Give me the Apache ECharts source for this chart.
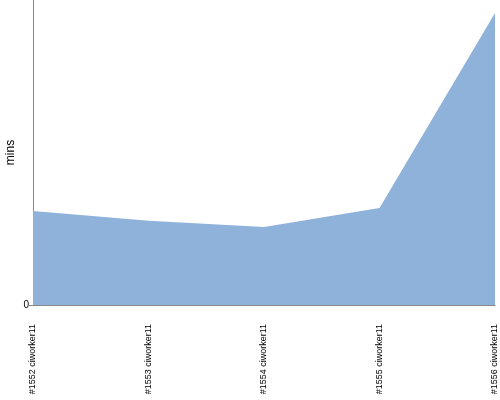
<!DOCTYPE html>
<html><head><meta charset="utf-8">
<script src="https://cdn.jsdelivr.net/npm/echarts@6/dist/echarts.min.js"></script>
<style>html,body{margin:0;padding:0;background:#fff}#c{width:500px;height:400px}</style>
</head><body><div id="c"></div>
<script>
const categories = ['#1552 ciworker11','#1553 ciworker11','#1554 ciworker11','#1555 ciworker11','#1556 ciworker11'];
const minsValues = [30.8, 27.6, 25.6, 31.8, 95.7];
const yTickLabels = [0];

const chart = echarts.init(document.getElementById('c'), null, {renderer:'canvas'});
chart.setOption({
  animation: false,
  grid: {left: 33, right: 5, top: 0, bottom: 95, containLabel: false, outerBoundsMode: 'none'},
  xAxis: {
    type: 'category', data: categories, boundaryGap: false,
    axisLine: {lineStyle: {color: '#888', width: 1}},
    axisTick: {show: false},
    axisLabel: {rotate: 90, margin: 19, fontSize: 9, color: '#000', fontFamily: 'Liberation Sans', interval: 0}
  },
  yAxis: {
    type: 'value', min: 0, max: 100,
    name: 'mins', nameLocation: 'middle', nameGap: 16, nameMoveOverlap: false,
    nameTextStyle: {fontSize: 12, color: '#000', fontFamily: 'Liberation Sans'},
    axisLine: {show: true, lineStyle: {color: '#888', width: 1}},
    axisTick: {show: true, length: 4, customValues: yTickLabels, lineStyle: {color: '#888'}},
    axisLabel: {customValues: yTickLabels, fontSize: 10, color: '#000', margin: 4, fontFamily: 'Liberation Sans'},
    splitLine: {show: false}
  },
  series: [{
    type: 'line', data: minsValues, symbol: 'none',
    lineStyle: {width: 0, color: '#8fb2da'},
    areaStyle: {color: '#8fb2da', opacity: 1}
  }]
});
</script></body></html>
